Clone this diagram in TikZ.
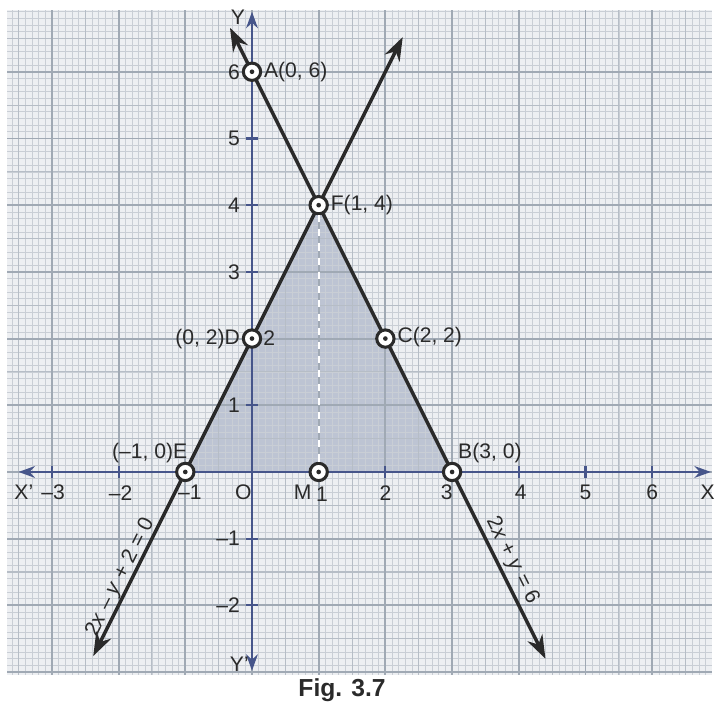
\documentclass[tikz,border=0pt]{standalone}
\usepackage{fontspec}
\setmainfont{Liberation Sans}
\usetikzlibrary{arrows.meta}
\definecolor{paper}{HTML}{EDEFF2}
\definecolor{gminor}{HTML}{C9CED5}
\definecolor{ghalf}{HTML}{B6BDC6}
\definecolor{gmajor}{HTML}{A0A9B4}
\definecolor{axiscol}{HTML}{46558A}
\definecolor{regioncol}{HTML}{BDC4D3}
\definecolor{inkcol}{HTML}{2A2A2A}
\tikzset{
  pt/.style={circle, draw=inkcol, line width=1.3pt, fill=white, minimum size=0.26cm, inner sep=0pt,
    path picture={\fill[inkcol] (path picture bounding box.center) circle (0.035);}},
  lbl/.style={inner sep=1pt, text=inkcol, font=\fontsize{9}{10}\selectfont},
  axis/.style={draw=axiscol, line width=1pt, -{Stealth[length=7pt,width=5pt]}},
  graphline/.style={draw=inkcol, line width=1.5pt, {Stealth[length=10pt,width=7pt]}-{Stealth[length=10pt,width=7pt]}},
  tickmark/.style={draw=axiscol, line width=0.9pt}
}
\begin{document}
\begin{tikzpicture}
\useasboundingbox[fill=white] (-3.778,-3.538) rectangle (6.972,7.076);
% graph paper
\fill[paper] (-3.67,-3.04) rectangle (6.9,6.93);
% shaded region
\coordinate (Es) at (-1,0);
\coordinate (Fs) at (1,4);
\coordinate (Bs) at (3,0);
\fill[fill=regioncol] (Es) -- (Fs) -- (Bs) -- cycle;
\draw[gminor, line width=0.25pt, step=0.1] (-3.67,-3.04) grid (6.9,6.93);
\draw[ghalf, line width=0.45pt, step=0.5] (-3.67,-3.04) grid (6.9,6.93);
\draw[gmajor, line width=0.8pt, step=1] (-3.67,-3.04) grid (6.9,6.93);
% axes
\coordinate (xl) at (-3.5,0);
\coordinate (xr) at (6.88,0);
\coordinate (yb) at (0,-2.98);
\coordinate (yt) at (0,6.9);
\draw[axis] (0,0) -- (xl);
\draw[axis] (0,0) -- (xr);
\draw[axis] (0,0) -- (yb);
\draw[axis] (0,0) -- (yt);
\foreach \x in {-3,-2,-1,1,2,3,4,5,6} \draw[tickmark] (\x,-0.09) -- (\x,0.09);
\foreach \y in {-2,-1,1,2,3,4,5,6} \draw[tickmark] (-0.09,\y) -- (0.09,\y);
% lines
\coordinate (L1a) at (-2.38,-2.76);
\coordinate (L1b) at (2.26,6.52);
\coordinate (L2a) at (-0.33,6.66);
\coordinate (L2b) at (4.4,-2.8);
\draw[graphline] (L1a) -- (L1b);
\draw[graphline] (L2a) -- (L2b);
% points
\node[pt] (A) at (0,6) {};
\node[pt] (F) at (1,4) {};
\node[pt] (D) at (0,2) {};
\node[pt] (C) at (2,2) {};
\node[pt] (B) at (3,0) {};
\node[pt] (E) at (-1,0) {};
\node[pt] (M) at (1,0) {};
\draw[white, line width=1pt, dashed] (F) -- (M);
% point labels
\node[lbl, anchor=west] (lA) at (0.14,6) {A(0, 6)};
\node[lbl, anchor=west] (lF) at (1.14,4) {F(1, 4)};
\node[lbl, anchor=east] (lD) at (-0.14,2) {(0, 2)D};
\node[lbl, anchor=west] (lD2) at (0.13,2) {2};
\node[lbl, anchor=west] (lC) at (2.14,2.02) {C(2, 2)};
\node[lbl, anchor=south east] (lE) at (-0.93,0.1) {(–1, 0)E};
\node[lbl, anchor=south west] (lB) at (3.05,0.1) {B(3, 0)};
% y-axis labels
\node[lbl] (Y) at (-0.21,6.82) {Y};
\node[lbl, anchor=east] (y6) at (-0.14,6) {6};
\node[lbl, anchor=east] (y5) at (-0.14,5) {5};
\node[lbl, anchor=east] (y4) at (-0.14,4) {4};
\node[lbl, anchor=east] (y3) at (-0.14,3) {3};
\node[lbl, anchor=east] (y1) at (-0.14,1) {1};
\node[lbl, anchor=east] (ym1) at (-0.14,-1) {–1};
\node[lbl, anchor=east] (ym2) at (-0.14,-2) {–2};
\node[lbl] (Yp) at (-0.19,-2.88) {Y'};
% x-axis labels
\node[lbl] (Xp) at (-3.42,-0.31) {X'};
\node[lbl] (xm3) at (-2.98,-0.31) {–3};
\node[lbl] (xm2) at (-1.97,-0.31) {–2};
\node[lbl] (xm1) at (-0.93,-0.31) {–1};
\node[lbl] (O) at (-0.13,-0.31) {O};
\node[lbl] (lM) at (0.76,-0.31) {M};
\node[lbl] (x1) at (1.05,-0.33) {1};
\node[lbl] (x2) at (2.0,-0.31) {2};
\node[lbl] (x3) at (2.92,-0.31) {3};
\node[lbl] (x4) at (4.03,-0.31) {4};
\node[lbl] (x5) at (5.0,-0.31) {5};
\node[lbl] (x6) at (6.0,-0.31) {6};
\node[lbl] (X) at (6.83,-0.31) {X};
% equation labels
\node[lbl, rotate=63.43] (eq1) at (-1.97,-1.58) {2\textit{x} – \textit{y} + 2 = 0};
\node[lbl, rotate=-63.43] (eq2) at (3.9,-1.33) {2\textit{x} + \textit{y} = 6};
% caption
\node[inner sep=0pt, text=inkcol, font=\fontsize{10.5}{12}\selectfont\bfseries] (cap) at (1.35,-3.27) {Fig. 3.7};
\end{tikzpicture}
\end{document}
